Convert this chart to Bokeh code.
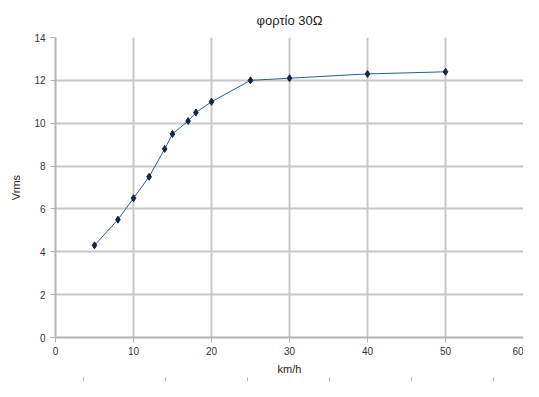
from bokeh.plotting import figure
from bokeh.models import Range1d, LinearAxis, FixedTicker
from bokeh.embed import file_html
from bokeh.resources import INLINE

speed_kmh = [5, 8, 10, 12, 14, 15, 17, 18, 20, 25, 30, 40, 50]
vrms = [4.3, 5.5, 6.5, 7.5, 8.8, 9.5, 10.1, 10.5, 11.0, 12.0, 12.1, 12.3, 12.4]
x_ticks = [0, 10, 20, 30, 40, 50, 60]
y_ticks = [0, 2, 4, 6, 8, 10, 12, 14]

FONT = "Liberation Sans"
GRID = "#c8c8c8"
AX = "#b3b3b3"

p = figure(width=523, height=381, output_backend="svg", toolbar_location=None,
           x_range=Range1d(0, 60), y_range=Range1d(0, 14),
           title="φορτίο 30Ω", min_border_left=55, min_border_right=0,
           min_border_top=37, min_border_bottom=0)
p.title.align = "center"
p.title.text_font = FONT
p.title.text_font_size = "13px"
p.title.text_font_style = "normal"
p.title.text_color = "#222222"
p.title.standoff = 20
p.outline_line_color = None

for ax in (p.xaxis[0], p.yaxis[0]):
    ax.axis_line_color = AX
    ax.axis_line_width = 2
    ax.major_tick_line_color = AX
    ax.major_tick_out = 5
    ax.major_tick_in = 0
    ax.minor_tick_line_color = None
    ax.major_label_text_font = FONT
    ax.major_label_text_font_size = "10px"
    ax.major_label_text_color = "#333333"
    ax.axis_label_text_font = FONT
    ax.axis_label_text_font_size = "11px"
    ax.axis_label_text_font_style = "normal"
    ax.axis_label_text_color = "#222222"

p.xaxis[0].ticker = FixedTicker(ticks=x_ticks)
p.yaxis[0].ticker = FixedTicker(ticks=y_ticks)
p.xaxis[0].axis_label = "km/h"
p.yaxis[0].axis_label = "Vrms"
p.xaxis[0].major_label_standoff = 4
p.xaxis[0].axis_label_standoff = 5
p.yaxis[0].axis_label_standoff = 9

p.xgrid.ticker = FixedTicker(ticks=x_ticks)
p.ygrid.ticker = FixedTicker(ticks=y_ticks)
for g in (p.xgrid[0], p.ygrid[0]):
    g.grid_line_color = GRID
    g.grid_line_width = 2

# secondary (unlabelled) bottom axis with only tick marks
p.extra_x_ranges = {"sec": Range1d(0, 468)}
sec = LinearAxis(x_range_name="sec", ticker=FixedTicker(ticks=[28, 110, 192, 274, 356, 438]))
sec.axis_line_color = None
sec.major_tick_line_color = AX
sec.major_tick_in = 0
sec.major_tick_out = 4
sec.major_label_standoff = 0
sec.minor_tick_line_color = None
sec.major_label_text_font_size = "0px"
sec.major_label_text_color = None
p.add_layout(sec, "below")

p.line(speed_kmh, vrms, line_color="#2a5f8f", line_width=1)
p.scatter(speed_kmh, vrms, marker="diamond", size=7, fill_color="#14263f",
          line_color="#14263f")

open("out.html", "w").write(file_html(p, INLINE))
